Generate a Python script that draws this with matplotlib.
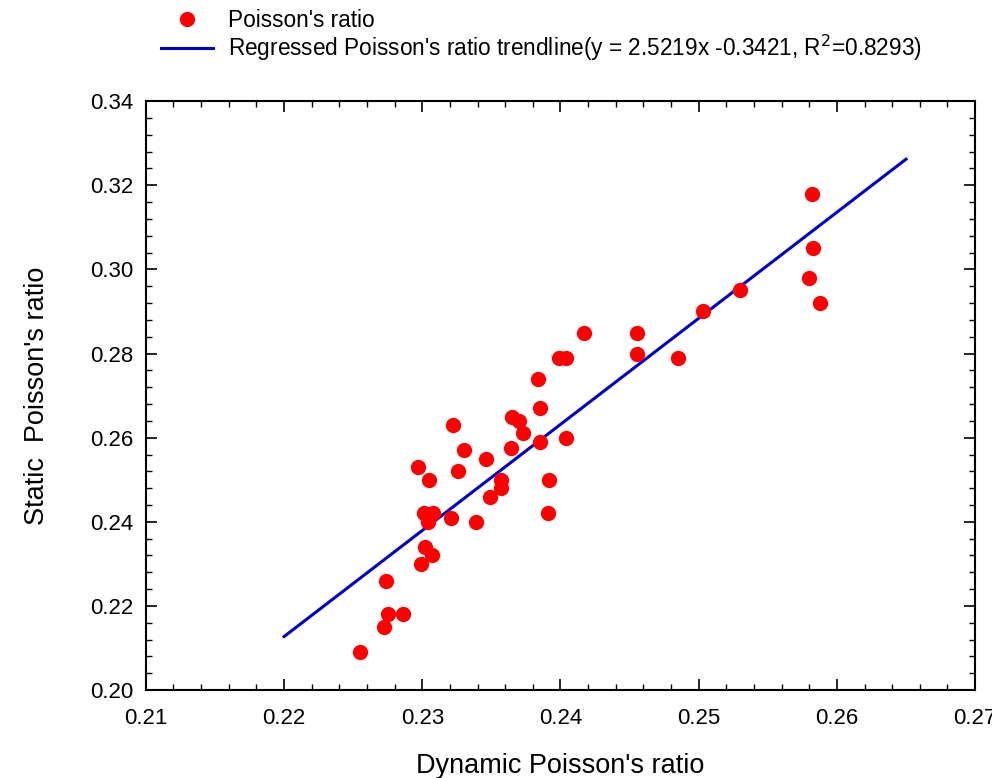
import numpy as np
import matplotlib.pyplot as plt

plt.rcParams['font.family'] = ['Liberation Sans', 'DejaVu Sans']

# dynamic / static Poisson's ratio
dynamic = [0.2255, 0.2272, 0.2275, 0.2286, 0.2274, 0.2299, 0.2302, 0.2307,
           0.2301, 0.2308, 0.2304, 0.2297, 0.2305, 0.2321, 0.2322, 0.2330,
           0.2326, 0.2339, 0.2346, 0.2349, 0.2357, 0.2357, 0.2364, 0.2365,
           0.2370, 0.2373, 0.2384, 0.2385, 0.2385, 0.2392, 0.2391, 0.2399,
           0.2404, 0.2404, 0.2417, 0.2455, 0.2455, 0.2485, 0.2503, 0.2530,
           0.2582, 0.2583, 0.2580, 0.2588]
static = [0.209, 0.215, 0.218, 0.218, 0.226, 0.230, 0.234, 0.232,
          0.242, 0.242, 0.240, 0.253, 0.250, 0.241, 0.263, 0.257,
          0.252, 0.240, 0.255, 0.246, 0.248, 0.250, 0.2575, 0.265,
          0.264, 0.261, 0.274, 0.267, 0.259, 0.250, 0.242, 0.279,
          0.279, 0.260, 0.285, 0.285, 0.280, 0.279, 0.290, 0.295,
          0.318, 0.305, 0.298, 0.292]

slope, intercept = 2.5219, -0.3421
trend_x = np.array([0.22, 0.265])
trend_y = slope * trend_x + intercept

fig = plt.figure(figsize=(9.92, 7.78), dpi=100)
ax = fig.add_axes([0.147, 0.113, 0.836, 0.757])

ax.plot(dynamic, static, 'o', color='#ff0000', markersize=11,
        markeredgewidth=0, label="Poisson's ratio", zorder=3)
ax.plot(trend_x, trend_y, '-', color='#0000cc', linewidth=2.2,
        label="Regressed Poisson's ratio trendline(y = 2.5219x -0.3421, R$^2$=0.8293)")

ax.set_xlim(0.21, 0.27)
ax.set_ylim(0.20, 0.34)
ax.set_xticks(np.arange(0.21, 0.2701, 0.01))
ax.set_xticks(np.arange(0.21, 0.2701, 0.002), minor=True)
ax.set_yticks(np.arange(0.20, 0.3401, 0.02))
ax.set_yticks(np.arange(0.20, 0.3401, 0.004), minor=True)
ax.xaxis.set_major_formatter(plt.FormatStrFormatter('%.2f'))
ax.yaxis.set_major_formatter(plt.FormatStrFormatter('%.2f'))
ax.tick_params(which='both', direction='in', top=True, right=True)
ax.tick_params(which='major', length=8, width=1.2, labelsize=16)
ax.tick_params(axis='x', which='major', pad=13)
ax.tick_params(axis='y', which='major', pad=9)
ax.tick_params(which='minor', length=4, width=1.0)
for s in ax.spines.values():
    s.set_linewidth(1.5)

ax.set_xlabel("Dynamic Poisson's ratio", fontsize=19.5, labelpad=17)
ax.set_ylabel("Static  Poisson's ratio", fontsize=19.5, labelpad=29)

fig.legend(loc='upper left', bbox_to_anchor=(0.142, 1.015), frameon=False,
           fontsize=16.3, handlelength=2.3, handletextpad=0.65, labelspacing=0.05,
           numpoints=1)

plt.savefig('out.png', dpi=100)
